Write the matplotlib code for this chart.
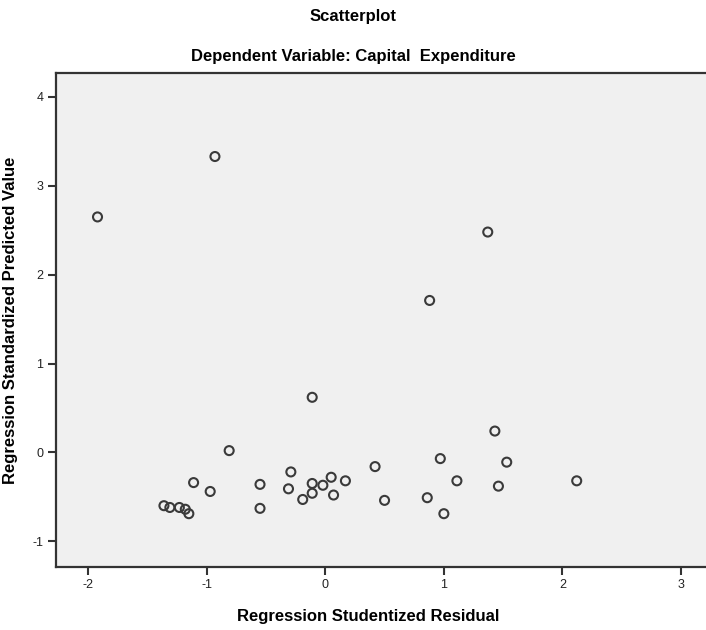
import numpy as np
import matplotlib
matplotlib.use("Agg")
import matplotlib.pyplot as plt

plt.rcParams['font.family'] = ['Liberation Sans', 'DejaVu Sans']
plt.rcParams['axes.unicode_minus'] = False

# studentized residual (x) vs standardized predicted value (y)
resid = [-1.92, -0.93, 1.37, 0.88, -0.11, -0.81, 1.43,
         -1.11, -0.97, -1.36, -1.31, -1.23, -1.18, -1.15,
         -0.55, -0.55, -0.29, -0.31, -0.19, -0.11, -0.11,
         -0.02, 0.05, 0.07, 0.17,
         0.97, 1.53, 0.42, 1.11, 2.12, 1.46, 0.86, 0.50, 1.00]
pred = [2.65, 3.33, 2.48, 1.71, 0.62, 0.02, 0.24,
        -0.34, -0.44, -0.60, -0.62, -0.62, -0.64, -0.69,
        -0.36, -0.63, -0.22, -0.41, -0.53, -0.35, -0.46,
        -0.37, -0.28, -0.48, -0.32,
        -0.07, -0.11, -0.16, -0.32, -0.32, -0.38, -0.51, -0.54, -0.69]

xticks = [-2, -1, 0, 1, 2, 3]
yticks = [-1, 0, 1, 2, 3, 4]

fig = plt.figure(figsize=(7.06, 6.3), dpi=100)
ax = fig.add_axes([56/706, 63/630, 650/706, 494/630])
ax.set_facecolor('#f0f0f0')

ax.scatter(resid, pred, s=42, facecolors='none', edgecolors='#3a3a3a', linewidths=1.5)

ax.set_xlim(-2.27, 3.21)
ax.set_ylim(-1.29, 4.27)
ax.set_xticks(xticks)
ax.set_yticks(yticks)
ax.tick_params(direction='out', length=6, width=1.5, color='#333333',
               labelsize=9, labelcolor='#222222', pad=3)

for s in ['left', 'bottom', 'top']:
    ax.spines[s].set_linewidth(1.6)
    ax.spines[s].set_color('#333333')
ax.spines['right'].set_visible(False)

ax.set_xlabel('Regression Studentized Residual', fontsize=12, fontweight='bold')
ax.set_ylabel('Regression Standardized Predicted Value', fontsize=12, fontweight='bold')
ax.xaxis.set_label_coords(0.48, -0.085)
ax.yaxis.set_label_coords(-0.058, 0.5)

fig.text(0.5, 1 - 17/630, 'Scatterplot', ha='center', va='center', fontsize=12, fontweight='bold')
fig.text(0.5, 1 - 57/630, 'Dependent Variable: Capital  Expenditure', ha='center', va='center',
         fontsize=12, fontweight='bold')

fig.savefig('out.png', dpi=100)
